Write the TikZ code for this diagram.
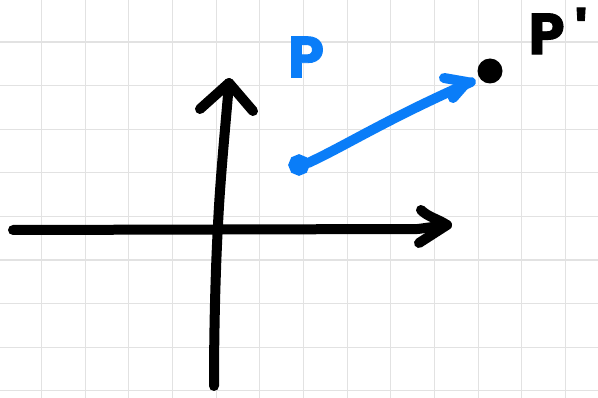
\documentclass[tikz,border=0pt]{standalone}
\usepackage{fontspec}
\newfontfamily\handfont{Poppins}[BoldFeatures={FakeBold=1.5}]
\definecolor{gridgray}{RGB}{226,226,226}
\definecolor{penblue}{RGB}{10,125,248}
\tikzset{
  gridline/.style={draw=gridgray, line width=1.1pt},
  pen/.style={line width=10pt, line cap=round, line join=round},
  lbl/.style={inner sep=0pt, font=\handfont\bfseries\fontsize{58}{58}\selectfont},
}
\begin{document}
\begin{tikzpicture}[x=1pt,y=-1pt]
\useasboundingbox (0,0) rectangle (598,398);
\fill[white] (0,0) rectangle (598,398);
% grid
\foreach \i in {0,...,12} {
  \draw[gridline] ({41.5+43.67*\i},0) -- ({41.5+43.67*\i},398);
}
\foreach \j in {0,...,8} {
  \draw[gridline] (0,{42+43.6*\j}) -- (598,{42+43.6*\j});
}
% coordinates
\coordinate (xs) at (13,230);
\coordinate (xe) at (447,225);
\coordinate (xu) at (421,210);
\coordinate (xl) at (419,243);
\coordinate (ys) at (214,386);
\coordinate (ye) at (229,83);
\coordinate (yl) at (200,109);
\coordinate (yr) at (253,111);
\coordinate (ps) at (308,163);
\coordinate (pe) at (471,82);
\coordinate (pu) at (444,78);
\coordinate (pl) at (453,98);
% axes
\draw[pen] (xs) -- (418,229) -- (xe);
\draw[pen] (xu) .. controls (428,217) and (438,219) .. (xe) -- (xl);
\draw[pen] (ys) .. controls (214,320) and (216,260) .. (218,225) .. controls (220,180) and (226,120) .. (ye);
\draw[pen] (yl) -- (ye) -- (yr);
% black point P'
\node[circle, fill=black, minimum size=25pt, inner sep=0pt] (pp) at (490,71) {};
% blue vector
\node[circle, draw=penblue, line width=10pt, minimum size=11pt, inner sep=0pt] (p) at (299,165) {};
\draw[pen, penblue] (ps) .. controls (345,146) and (385,120) .. (pe);
\draw[pen, penblue] (pu) -- (467,82) -- (pl);
% labels
\node[lbl, text=penblue] (plbl) at (306,57) {P};
\node[lbl, text=black] (pplbl) at (558,31) {P\kern10pt'};
\end{tikzpicture}
\end{document}
